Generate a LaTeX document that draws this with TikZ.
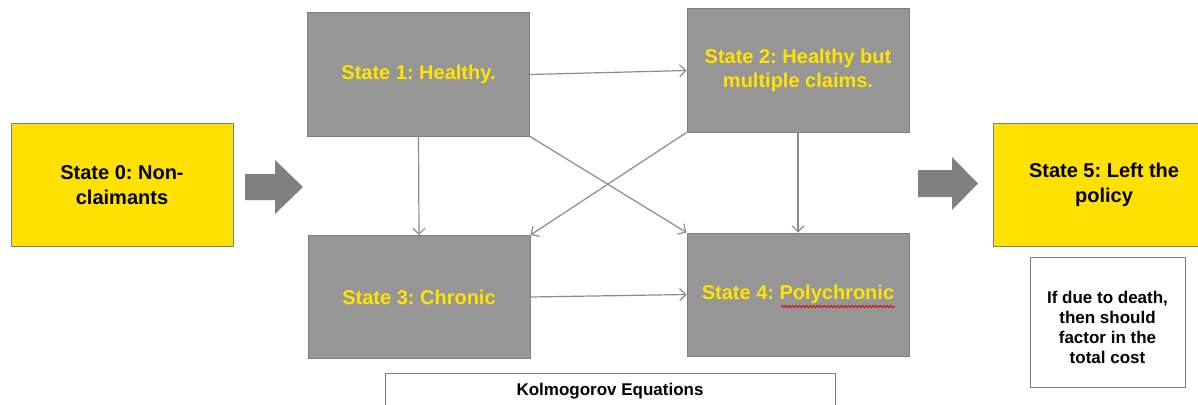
\documentclass[tikz,border=0pt]{standalone}
\usepackage{fontspec}
\setmainfont{Liberation Sans}
\usetikzlibrary{arrows.meta,calc,decorations.pathmorphing}
\frenchspacing
\definecolor{boxgray}{HTML}{969696}
\definecolor{edgegray}{HTML}{7F7F7F}
\definecolor{stateyellow}{HTML}{FFE100}
\definecolor{textyellow}{HTML}{FFE400}
\definecolor{arrowgray}{HTML}{8C8C8C}
\definecolor{bigarrowgray}{HTML}{808080}
\begin{document}
\begin{tikzpicture}[x=1pt,y=-1pt,
  statebox/.style={draw=edgegray, line width=1pt, minimum width=222pt, minimum height=123pt,
    inner sep=0pt, align=center, font=\fontsize{20}{24.5}\selectfont\bfseries},
  graybox/.style={statebox, fill=boxgray, text=textyellow},
  yellowbox/.style={statebox, fill=stateyellow, text=black},
  notebox/.style={draw=edgegray, line width=1pt, fill=white, inner sep=0pt, align=center,
    font=\fontsize{17}{20}\selectfont\bfseries},
  flow/.style={draw=arrowgray, line width=1.2pt, -{Straight Barb[length=6pt,width=12pt]}},
  bigarrow/.style={fill=bigarrowgray}]
\clip (0,0) rectangle (1198,404);
\fill[white] (0,0) rectangle (1198,404);

% state boxes
\node[yellowbox] (s0) at (122,185) {State 0: Non-\\claimants};
\node[graybox] (s1) at (418.5,74.5) {State 1: Healthy.};
\node[graybox] (s2) at (798,70.5) {State 2: Healthy but\\multiple claims.};
\node[graybox] (s3) at (419,297) {State 3: Chronic};
\node[graybox] (s4) at (798,294.5) {State 4: Polychronic};
\node[yellowbox] (s5) at (1104,185) {State 5: Left the\\policy};

% notes
\node[notebox, minimum width=155pt, minimum height=130pt] (note) at (1107.5,322.5)
  {\rule{0pt}{22pt}If due to death,\\then should\\factor in the\\total cost};
\node[notebox, minimum width=450pt, minimum height=36pt] (kol) at (610,391)
  {Kolmogorov Equations};

% spell-check underline
\draw[red!85!black, line width=0.8pt, decorate,
  decoration={snake, amplitude=1.2pt, segment length=3.5pt}]
  ($(s4.center)+(-17,12)$) -- ($(s4.center)+(97,12)$);

% transitions
\draw[flow] (s1.east) -- (s2.west);
\draw[flow] (s3.east) -- (s4.west);
\draw[flow] (s1.south) -- (s3.north);
\draw[flow] (s2.south) -- (s4.north);
\draw[flow] (s1.south east) -- (s4.north west);
\draw[flow] (s2.south west) -- (s3.north east);

% big block arrows
\coordinate (a1) at (245,187);
\fill[bigarrow] (a1) ++(0,-13) -- ++(30,0) -- ++(0,-14) -- ++(28,27) -- ++(-28,27) -- ++(0,-14) -- ++(-30,0) -- cycle;
\coordinate (a2) at (918,183.5);
\fill[bigarrow] (a2) ++(0,-13.5) -- ++(34,0) -- ++(0,-13) -- ++(26,26.5) -- ++(-26,26.5) -- ++(0,-13) -- ++(-34,0) -- cycle;
\end{tikzpicture}
\end{document}
